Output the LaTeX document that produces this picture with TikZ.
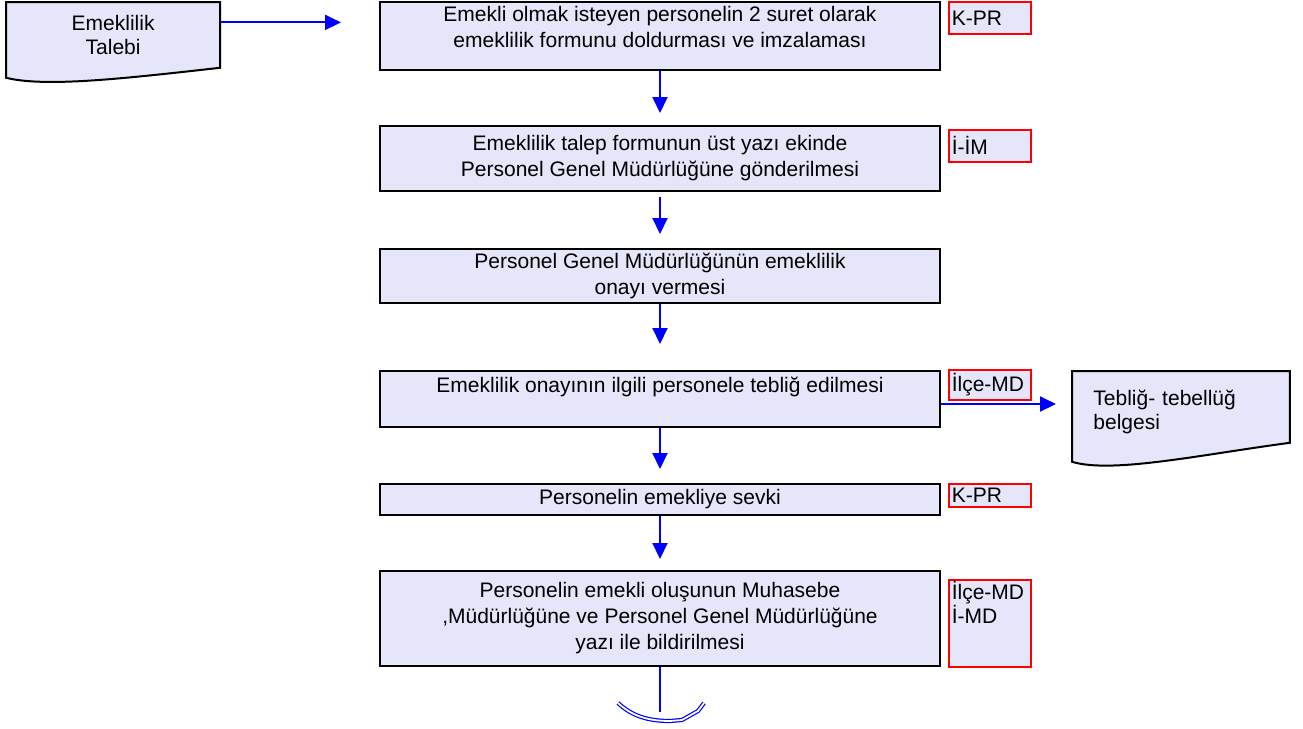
\documentclass[tikz,border=0pt]{standalone}
\usepackage{fontspec}
\setmainfont{Liberation Sans}
\usetikzlibrary{positioning,arrows.meta,backgrounds}
\definecolor{stepfill}{RGB}{230,230,250}
\definecolor{flowblue}{RGB}{0,0,255}

\begin{document}
\begin{tikzpicture}[x = 0.5pt, y = -0.5pt,
        stepbox/.style = {draw = black, line width = 1pt, fill = stepfill, rectangle, minimum width = 280pt, inner sep = 1pt, align = center, font = \fontsize{10.5}{13}\selectfont},
        unitbox/.style = {draw = red, line width = 0.8pt, fill = stepfill, rectangle, minimum width = 41pt, text width = 38pt, inner xsep = 1.5pt, inner ysep = 0.5pt, align = left, font = \fontsize{10.5}{12}\selectfont},
        docbox/.style = {rectangle, inner sep = 0pt, font = \fontsize{10.5}{12}\selectfont},
        docshape/.style = {draw = black, line width = 1pt, fill = stepfill},
        flow/.style = {draw = flowblue, line width = 1pt, -{Triangle[length = 8pt, width = 7.5pt]}}]
        \useasboundingbox (0, 0) rectangle (1303, 729);

        \node [stepbox, minimum height = 34pt, text depth = 9pt, anchor = north] (s1) at (660, 1) {Emekli olmak isteyen personelin 2 suret olarak\\emeklilik formunu doldurması ve imzalaması} ;
        \node [stepbox, minimum height = 32.5pt, below = 27pt of s1] (s2) {Emeklilik talep formunun üst yazı ekinde\\Personel Genel Müdürlüğüne gönderilmesi} ;
        \node [stepbox, minimum height = 27pt, below = 28pt of s2] (s3) {Personel Genel Müdürlüğünün emeklilik\\onayı vermesi} ;
        \node [stepbox, minimum height = 28pt, text depth = 14.5pt, below = 33pt of s3] (s4) {Emeklilik onayının ilgili personele tebliğ edilmesi} ;
        \node [stepbox, minimum height = 15.5pt, below = 27.5pt of s4] (s5) {Personelin emekliye sevki} ;
        \node [stepbox, minimum height = 47.5pt, below = 27pt of s5] (s6) {Personelin emekli oluşunun Muhasebe\\,Müdürlüğüne ve Personel Genel Müdürlüğüne\\yazı ile bildirilmesi} ;

        \node [unitbox, minimum height = 16pt, right = 3.5pt of s1.north east, anchor = north west] (u1) {K-PR} ;
        \node [unitbox, minimum height = 16pt, right = 3.5pt of s2.north east, anchor = north west, yshift = -2pt] (u2) {İ-İM} ;
        \node [unitbox, minimum height = 15pt, right = 3.5pt of s4.north east, anchor = north west, yshift = 0.5pt] (u4) {İlçe-MD} ;
        \node [unitbox, minimum height = 11.5pt, right = 3.5pt of s5.north east, anchor = north west] (u5) {K-PR} ;
        \node [unitbox, minimum height = 43.5pt, text depth = 32.5pt, right = 3.5pt of s6.north east, anchor = north west, yshift = -4.5pt] (u6) {İlçe-MD\\İ-MD} ;

        \node [docbox, minimum width = 106.5pt, minimum height = 32.5pt, align = center, left = 79.5pt of s1.north west, anchor = north east, yshift = -0.5pt] (talebi) {Emeklilik\\Talebi} ;
        \node [docbox, minimum width = 108.5pt, minimum height = 35.5pt, text width = 87.5pt, text height = 12.7pt, inner xsep = 10.5pt, align = left, right = 65.5pt of s4.north east, anchor = north west, yshift = -0.5pt] (teblig) {Tebliğ- tebellüğ\\belgesi} ;

        \begin{pgfonlayer}{background}
        \draw [docshape] (talebi.north west) -- (talebi.north east) -- (talebi.south east) .. controls +(-90, 10) and +(40, 10) .. ([yshift = -5pt]talebi.south west) -- cycle ;
        \draw [docshape] (teblig.north west) -- (teblig.north east) -- (teblig.south east) .. controls +(-90, 12) and +(40, 12) .. ([yshift = -9.5pt]teblig.south west) -- cycle ;
        \end{pgfonlayer}

        \coordinate (talebiout) at ([yshift = 6.25pt]talebi.east) ;
        \coordinate (s4out) at ([yshift = -2.5pt]s4.east) ;
        \draw [flow, shorten >= 19pt] (talebiout) -- (talebiout -| s1.west) ;
        \draw [flow, shorten >= 8pt] (s4out) -- (s4out -| teblig.west) ;

        \draw [flow, shorten >= 6pt] (s1) -- (s2) ;
        \draw [flow, shorten <= 2.5pt, shorten >= 7pt] (s2) -- (s3) ;
        \draw [flow, shorten >= 13pt] (s3) -- (s4) ;
        \draw [flow, shorten >= 7pt] (s4) -- (s5) ;
        \draw [flow, shorten >= 5.5pt] (s5) -- (s6) ;

        \coordinate (offpage) at (660, 712) ;
        \draw [draw = flowblue, line width = 1pt] (s6) -- (offpage) ;
        \draw [flowblue, line width = 0.6pt, double = white, double distance = 0.9pt] (618, 703) .. controls (632, 716) and (648, 721) .. (670, 721) -- (682, 720) -- (698, 711) -- (704, 703) ;
\end{tikzpicture}
\end{document}
